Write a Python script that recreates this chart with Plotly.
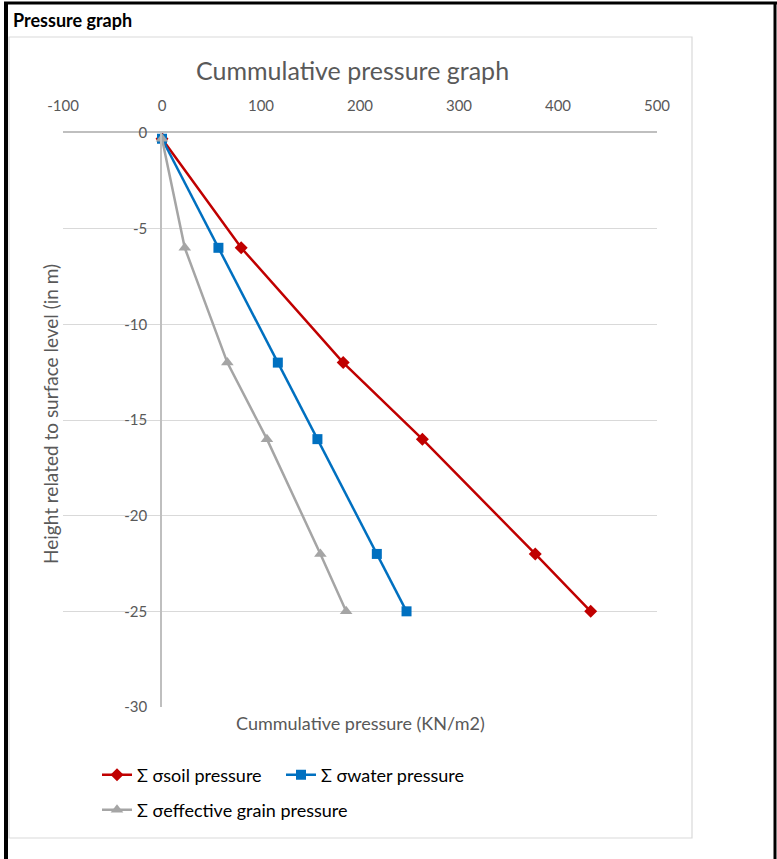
import plotly.graph_objects as go

# ---- data ----
heights = [-0.3, -6, -12, -16, -22, -25]
soil_pressure = [0, 80, 183, 263, 377, 433]
water_pressure = [0, 57, 117, 157, 217, 247]
effective_pressure = [0, 23, 66, 106, 160, 186]

series_names = ["Σ σsoil pressure", "Σ σwater pressure", "Σ σeffective grain pressure"]
x_ticks = [-100, 0, 100, 200, 300, 400, 500]
y_ticks = [0, -5, -10, -15, -20, -25, -30]

W, H = 777, 859
L, R, T, B = 63, 657, 133, 707  # plot area in pixels


def px(x):
    return (x - L) / (R - L)


def py(y):
    return (B - y) / (B - T)


FONT = "Lato"
GREY_TXT = "#595959"

fig = go.Figure()

styles = [
    dict(color="#C00000", symbol="diamond", size=10),
    dict(color="#0070C0", symbol="square", size=10),
    dict(color="#A5A5A5", symbol="triangle-up", size=11),
]
vals = [soil_pressure, water_pressure, effective_pressure]
legends = ["legend", "legend2", "legend3"]
for name, v, st, lg in zip(series_names, vals, styles, legends):
    fig.add_trace(go.Scatter(
        x=v, y=heights, mode="lines+markers", name=name,
        line=dict(color=st["color"], width=2.5),
        marker=dict(color=st["color"], symbol=st["symbol"], size=st["size"]),
        legend=lg,
    ))

legend_common = dict(
    orientation="h", xanchor="left", yanchor="middle",
    font=dict(family=FONT, size=18, color="#000000"),
    bgcolor="rgba(0,0,0,0)", borderwidth=0, itemwidth=30,
)

fig.update_layout(
    width=W, height=H,
    margin=dict(l=L, r=W - R, t=T, b=H - B, pad=0),
    paper_bgcolor="white", plot_bgcolor="white",
    showlegend=True,
    legend=dict(x=px(97), y=py(775), **legend_common),
    legend2=dict(x=px(281), y=py(775), **legend_common),
    legend3=dict(x=px(97), y=py(810), **legend_common),
    xaxis=dict(
        range=[-100, 500], tickvals=x_ticks, ticktext=[str(v) for v in x_ticks], side="top",
        showgrid=False, zeroline=False,
        showline=True, linecolor="#BFBFBF", linewidth=1.5,
        ticks="", ticklabelstandoff=14,
        tickfont=dict(family=FONT, size=15, color=GREY_TXT),
    ),
    yaxis=dict(
        range=[-30, 0], tickvals=y_ticks, ticktext=[str(v) for v in y_ticks],
        anchor="free", position=px(161),
        showgrid=True, gridcolor="#D9D9D9", gridwidth=1,
        zeroline=False, showline=True, linecolor="#BFBFBF", linewidth=1.5,
        ticks="", ticklabelstandoff=10,
        tickfont=dict(family=FONT, size=15, color=GREY_TXT),
    ),
)

annotations = [
    dict(text="<b>Pressure graph</b>", x=px(11), y=py(20), xanchor="left", yanchor="middle",
         font=dict(family=FONT, size=18, color="#000000")),
    dict(text="Cummulative pressure graph", x=px(352), y=py(70), xanchor="center", yanchor="middle",
         font=dict(family=FONT, size=25, color=GREY_TXT)),
    dict(text="Cummulative pressure (KN/m2)", x=px(360), y=py(723), xanchor="center", yanchor="middle",
         font=dict(family=FONT, size=18, color=GREY_TXT)),
    dict(text="Height related to surface level (in m)", x=px(50), y=py(414), xanchor="center",
         yanchor="middle", textangle=-90,
         font=dict(family=FONT, size=19, color=GREY_TXT)),
]
for a in annotations:
    a.update(xref="paper", yref="paper", showarrow=False)
fig.update_layout(annotations=annotations)

shapes = [
    # chart area frame
    dict(type="rect", x0=px(9), x1=px(692), y0=py(37), y1=py(838),
         line=dict(color="#D9D9D9", width=1.2), fillcolor="rgba(0,0,0,0)"),
    # outer black frame
    dict(type="line", x0=px(6), x1=px(6), y0=py(2), y1=py(870), line=dict(color="black", width=4)),
    dict(type="line", x0=px(4), x1=px(777), y0=py(3), y1=py(3), line=dict(color="black", width=3)),
    dict(type="line", x0=px(775), x1=px(775), y0=py(2), y1=py(870), line=dict(color="black", width=3)),
]
for s in shapes:
    s.update(xref="paper", yref="paper", layer="above")
fig.update_layout(shapes=shapes)

fig.write_html(
    "out.html",
    config={"displayModeBar": False},
    post_script="document.body.style.margin='0';document.body.style.overflow='hidden';",
)
